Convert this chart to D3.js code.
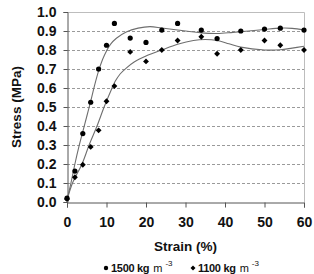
<!DOCTYPE html>
<html><head><meta charset="utf-8">
<script src="https://cdn.jsdelivr.net/npm/d3@7"></script>
<style>
html,body{margin:0;padding:0;background:#fff;}
svg{display:block;font-family:"Liberation Sans",Arial,sans-serif;}
</style></head>
<body>
<svg id="chart" width="314" height="274"></svg>
<script>
// Measured points
const strain = [0,2,4,6,8,10,12,16,20,24,28,34,38,44,50,54,60];
const stress1500 = [0.02,0.163,0.36,0.525,0.70,0.825,0.94,0.863,0.84,0.905,0.94,0.905,0.86,0.90,0.91,0.915,0.905];
const stress1100 = [0.016,0.13,0.196,0.29,0.377,0.53,0.61,0.79,0.74,0.80,0.85,0.87,0.78,0.80,0.85,0.825,0.80];

// Trend lines
const trendStrain1500 = [0,1,2,3,4,5,6,7,8,9,10,11,12.5,15,18,21,24,28,34,38,42,46,50,54,57,60];
const trendStress1500 = [0.01,0.1,0.2,0.29,0.37,0.45,0.53,0.615,0.69,0.75,0.795,0.83,0.862,0.895,0.915,0.923,0.916,0.905,0.89,0.887,0.893,0.90,0.908,0.915,0.914,0.905];
const trendStrain1100 = [0,1.4,3.8,5.6,7.6,9.4,11.3,12.2,13.5,15,17,20,24,28,32,35,38,41,44,50,54,57,60];
const trendStress1100 = [0.01,0.1,0.2,0.3,0.4,0.5,0.595,0.635,0.675,0.705,0.737,0.768,0.80,0.83,0.85,0.855,0.85,0.833,0.815,0.80,0.801,0.81,0.82];

const xTicks = [0,10,20,30,40,50,60];
const yTicks = [0,0.1,0.2,0.3,0.4,0.5,0.6,0.7,0.8,0.9,1.0];

const svg = d3.select("#chart");
const L = 67, R = 304, T = 12, B = 202;
const x = d3.scaleLinear().domain([0,60]).range([L,R]);
const y = d3.scaleLinear().domain([0,1]).range([B,T]);

// gridlines
svg.append("g").selectAll("line").data(yTicks.filter(d=>d>0 && d<1)).join("line")
  .attr("x1",L).attr("x2",R).attr("y1",d=>Math.round(y(d))+0.5).attr("y2",d=>Math.round(y(d))+0.5)
  .attr("stroke","#9a9a9a").attr("stroke-width",1).attr("stroke-dasharray","3,2");
// top/right border
svg.append("path").attr("d",`M${L},${T+0.5}H${R+0.5}V${B}`).attr("fill","none").attr("stroke","#bdbdbd").attr("stroke-width",1);

// axes
const yAxis = svg.append("g").attr("transform",`translate(${L+0.5},0)`)
  .call(d3.axisLeft(y).tickValues(yTicks).tickFormat(d3.format(".1f")).tickSize(4).tickPadding(7));
const xAxis = svg.append("g").attr("transform",`translate(0,${B+0.5})`)
  .call(d3.axisBottom(x).tickValues(xTicks).tickSize(5).tickPadding(10));
[yAxis,xAxis].forEach(a=>{
  a.select(".domain").attr("stroke","#555");
  a.selectAll(".tick line").attr("stroke","#555");
  a.selectAll(".tick text").attr("fill","#111").attr("font-size",14).attr("font-weight","bold")
    .attr("font-family","'Liberation Sans',Arial,sans-serif");
});

// trend lines
const line = d3.line().x(d=>x(d[0])).y(d=>y(d[1])).curve(d3.curveCatmullRom.alpha(0.5));
svg.append("path").datum(d3.zip(trendStrain1500,trendStress1500)).attr("d",line)
  .attr("fill","none").attr("stroke","#6e6e6e").attr("stroke-width",1.1);
svg.append("path").datum(d3.zip(trendStrain1100,trendStress1100)).attr("d",line)
  .attr("fill","none").attr("stroke","#6e6e6e").attr("stroke-width",1.1);

// points
svg.append("g").selectAll("circle").data(d3.zip(strain,stress1500)).join("circle")
  .attr("cx",d=>x(d[0])).attr("cy",d=>y(d[1])).attr("r",2.6).attr("fill","#000");
const diamond = d3.symbol().type(d3.symbolDiamond2).size(22);
svg.append("g").selectAll("path").data(d3.zip(strain,stress1100)).join("path")
  .attr("transform",d=>`translate(${x(d[0])},${y(d[1])})`).attr("d",diamond).attr("fill","#000");

// axis titles
svg.append("text").attr("x",(L+R)/2).attr("y",251).attr("text-anchor","middle")
  .attr("font-size",13.5).attr("font-weight","bold").attr("fill","#111").text("Strain (%)");
svg.append("text").attr("transform",`translate(21,${(T+B)/2}) rotate(-90)`).attr("text-anchor","middle")
  .attr("font-size",13.5).attr("font-weight","bold").attr("fill","#111").text("Stress (MPa)");

// legend
const legend = [{label:"1500", x:106, sym:"circle"},{label:"1100", x:193, sym:"diamond"}];
legend.forEach(l=>{
  if(l.sym==="circle") svg.append("circle").attr("cx",l.x).attr("cy",268).attr("r",2.2).attr("fill","#000");
  else svg.append("path").attr("transform",`translate(${l.x},268)`).attr("d",d3.symbol().type(d3.symbolDiamond2).size(16)).attr("fill","#000");
  const t = svg.append("text").attr("x",l.x+5).attr("y",272).attr("font-size",11).attr("fill","#111");
  t.append("tspan").attr("font-weight","bold").attr("letter-spacing","-0.3").text(l.label+" kg");
  t.append("tspan").attr("dx",4).text("m");
  t.append("tspan").attr("dx",3).attr("dy",-6).attr("font-size",8).text("-3");
});
</script>
</body></html>
